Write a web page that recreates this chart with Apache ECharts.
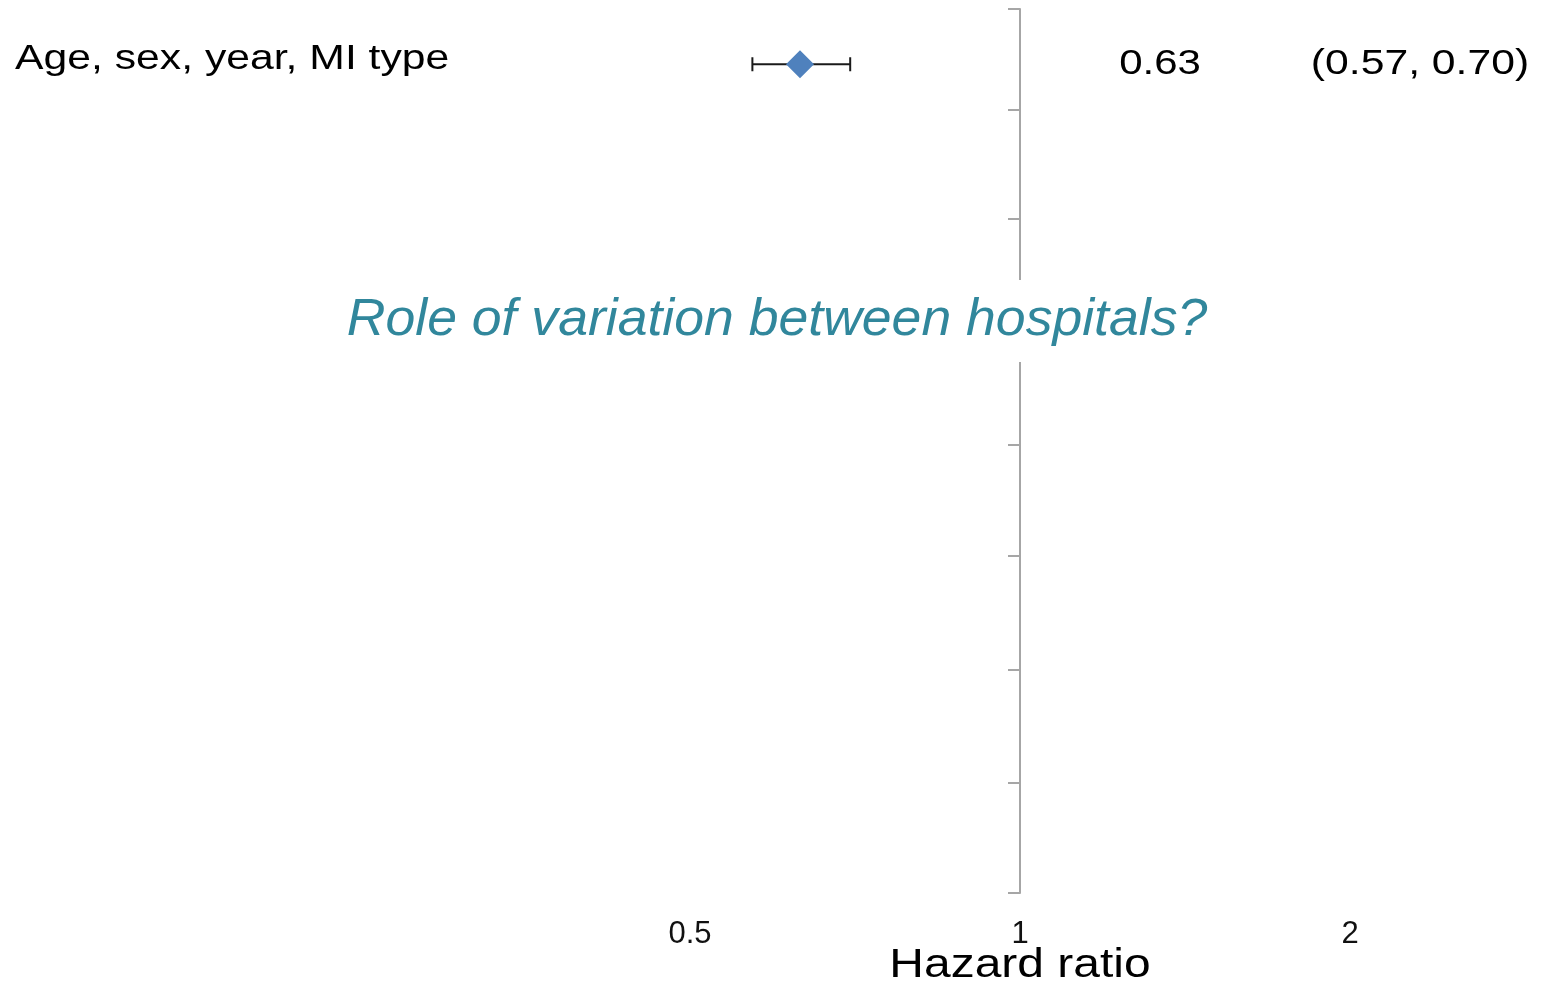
<!DOCTYPE html>
<html>
<head>
<meta charset="utf-8">
<script src="https://cdn.jsdelivr.net/npm/echarts@6/dist/echarts.min.js"></script>
<style>html,body{margin:0;padding:0;background:#fff}#c{width:1544px;height:990px}</style>
</head>
<body>
<div id="c"></div>
<script>
// ---- data ----
const rowLabels = ['Age, sex, year, MI type'];
const rowPos = [0.5];
const hazardRatio = [0.63];
const ciLow = [0.57];
const ciHigh = [0.70];
const xTickLabels = [0.5, 1, 2];
const rowBoundaries = [0, 0.91, 1.9, 2.91, 3.94, 4.95, 5.98, 7.0, 8];
const xTitle = 'Hazard ratio';
const note = 'Role of variation between hospitals?';

const chart = echarts.init(document.getElementById('c'));
const FONT = '"Liberation Sans", Arial, sans-serif';

const ciData = rowLabels.map((r, i) => [ciLow[i], ciHigh[i], rowPos[i], hazardRatio[i], i]);
const pointData = rowLabels.map((r, i) => [hazardRatio[i], rowPos[i]]);

chart.setOption({
  backgroundColor: '#fff',
  animation: false,
  grid: [
    { left: 690, right: 194, top: 9, bottom: 97 },
    { left: 1020, right: 523, top: 9, bottom: 97 }
  ],
  xAxis: [
    {
      gridIndex: 0, type: 'log', logBase: 2, min: xTickLabels[0], max: xTickLabels[xTickLabels.length - 1],
      axisLine: { show: false }, axisTick: { show: false }, splitLine: { show: false },
      axisLabel: { fontSize: 31, color: '#111', fontFamily: FONT, margin: 26,
        customValues: xTickLabels, formatter: v => String(v) }
    },
    { gridIndex: 1, type: 'value', show: false }
  ],
  yAxis: [
    { gridIndex: 0, type: 'value', min: 0, max: 8, inverse: true, show: false },
    {
      gridIndex: 1, type: 'value', min: 0, max: 8, interval: 1, inverse: true,
      axisLine: { show: true, lineStyle: { color: '#a6a6a6', width: 2 } },
      axisTick: { show: true, length: 12, customValues: rowBoundaries, lineStyle: { color: '#a6a6a6', width: 2 } },
      axisLabel: { show: false }, splitLine: { show: false }
    }
  ],
  series: [
    {
      type: 'custom', xAxisIndex: 0, yAxisIndex: 0, z: 3,
      data: ciData,
      renderItem: function (params, api) {
        const lo = api.coord([api.value(0), api.value(2)]);
        const hi = api.coord([api.value(1), api.value(2)]);
        const y = lo[1];
        const i = api.value(4);
        const cap = 7;
        const ls = { stroke: '#1a1a1a', lineWidth: 2 };
        const tf = { fill: '#000', font: '35px ' + FONT, textVerticalAlign: 'middle' };
        return {
          type: 'group',
          children: [
            { type: 'line', shape: { x1: lo[0], y1: y, x2: hi[0], y2: y }, style: ls },
            { type: 'line', shape: { x1: lo[0], y1: y - cap, x2: lo[0], y2: y + cap }, style: ls },
            { type: 'line', shape: { x1: hi[0], y1: y - cap, x2: hi[0], y2: y + cap }, style: ls },
            { type: 'text', x: 15, y: y - 5, scaleX: 1.22, style: Object.assign({ text: rowLabels[i], textAlign: 'left' }, tf) },
            { type: 'text', x: 1160, y: y, scaleX: 1.2, style: Object.assign({ text: hazardRatio[i].toFixed(2), textAlign: 'center' }, tf) },
            { type: 'text', x: 1420, y: y, scaleX: 1.22, style: Object.assign({ text: '(' + ciLow[i].toFixed(2) + ', ' + ciHigh[i].toFixed(2) + ')', textAlign: 'center' }, tf) }
          ]
        };
      }
    },
    {
      type: 'scatter', xAxisIndex: 0, yAxisIndex: 0, z: 4,
      symbol: 'diamond', symbolSize: 28,
      itemStyle: { color: '#4f81bd', opacity: 1 },
      data: pointData
    }
  ],
  graphic: [
    {
      type: 'text', z: 100, x: 777, y: 321, scaleX: 1.03,
      style: {
        text: note, textAlign: 'center', textVerticalAlign: 'middle',
        font: 'italic 52px ' + FONT, fill: '#31879c',
        backgroundColor: '#fff', padding: [16, 6, 14, 6]
      }
    },
    {
      type: 'text', z: 100, x: 1020, y: 966, scaleX: 1.17,
      style: {
        text: xTitle, textAlign: 'center', textVerticalAlign: 'middle',
        font: '41px ' + FONT, fill: '#000'
      }
    }
  ]
});
</script>
</body>
</html>
